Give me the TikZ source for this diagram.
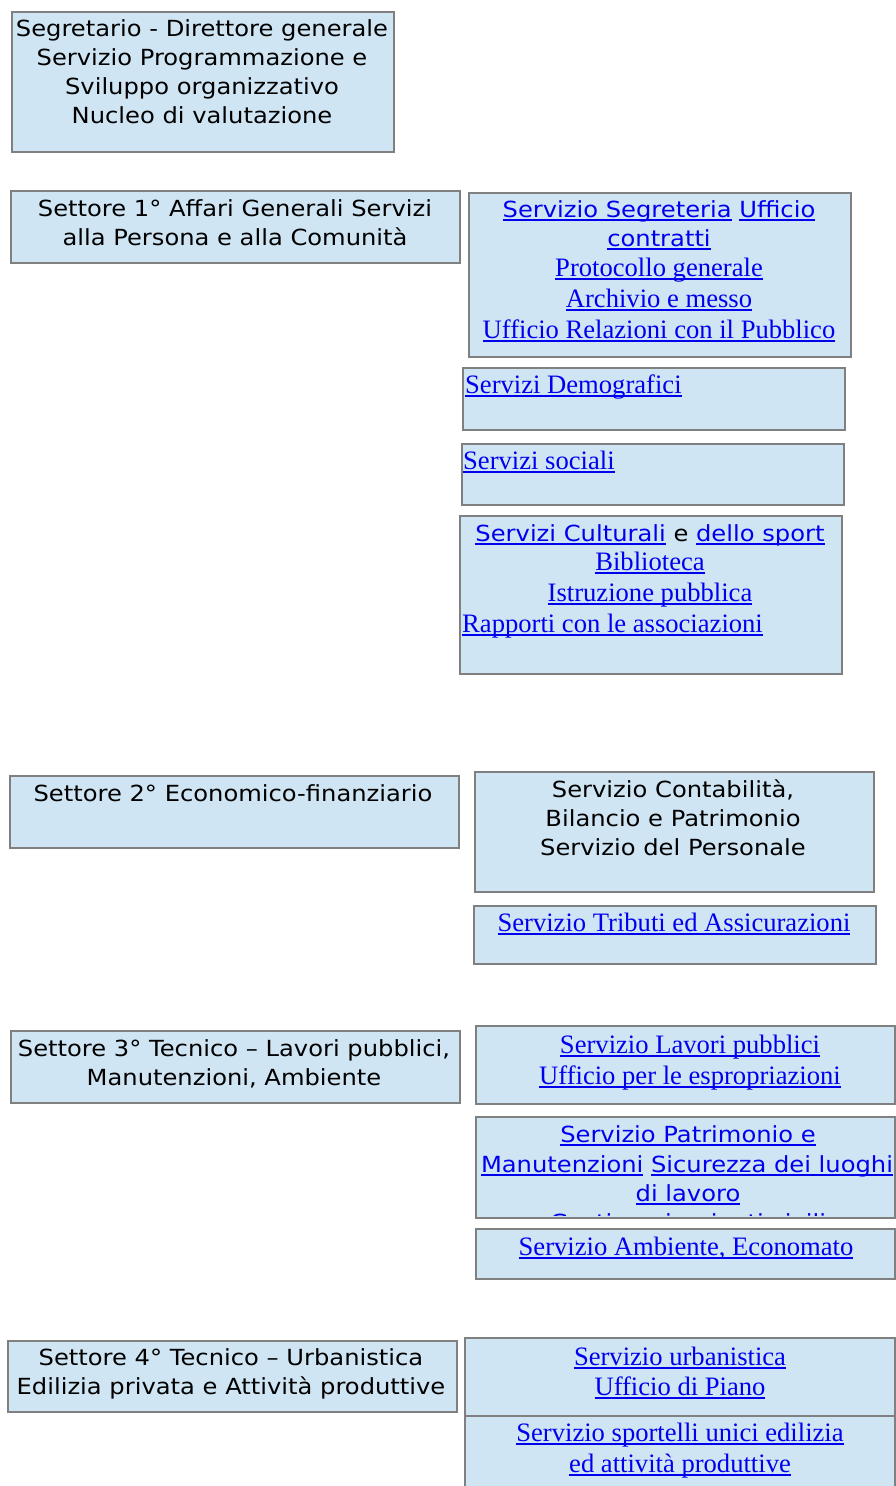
\documentclass[tikz,border=0pt]{standalone}
\usepackage{fontspec}
\newfontfamily\sansf[FakeStretch=1.09]{DejaVu Sans}
\newfontfamily\serf{Liberation Serif}
\definecolor{boxc}{HTML}{CFE5F3}
\definecolor{bordc}{HTML}{808080}
\definecolor{linkc}{HTML}{0000EE}
\newcommand\ulx[1]{\setbox0\hbox{#1}\rlap{\rule[-3.6pt]{\wd0}{1.3pt}}\box0}
\newcommand\lk[1]{\textcolor{linkc}{\ulx{#1}}}
\tikzset{
  box/.style={draw=bordc, line width=2pt, fill=boxc, rectangle, inner sep=0pt, anchor=north west},
  st/.style={font=\sansf\fontsize{22.2pt}{26pt}\selectfont, text=black, inner sep=0pt, anchor=base},
  sr/.style={font=\serf\fontsize{26.6pt}{30pt}\selectfont, text=linkc, inner sep=0pt, anchor=base},
  srl/.style={sr, anchor=base west}
}
\begin{document}
\begin{tikzpicture}[x=1pt,y=-1pt]
\useasboundingbox (0,0) rectangle (895,1486);
% Segretario
\node[box, minimum width=382pt, minimum height=140pt] (bA) at (11,11) {};
\node[st] (a1) at (202,36) {Segretario - Direttore generale};
\node[st] (a2) at (202,65) {Servizio Programmazione e};
\node[st] (a3) at (202,94) {Sviluppo organizzativo};
\node[st] (a4) at (202,123) {Nucleo di valutazione};
% Settore 1
\node[box, minimum width=449pt, minimum height=72pt] (bB) at (10,190) {};
\node[st] (b1) at (235,216) {Settore 1° Affari Generali Servizi};
\node[st] (b2) at (235,245) {alla Persona e alla Comunità};
% Segreteria
\node[box, minimum width=382pt, minimum height=164pt] (bC) at (468,192) {};
\node[st] (c1) at (659,217) {\lk{Servizio Segreteria} \lk{Ufficio}};
\node[st] (c2) at (659,246) {\lk{contratti}};
\node[sr] (c3) at (659,276) {\ulx{Protocollo generale}};
\node[sr] (c4) at (659,307) {\ulx{Archivio e messo}};
\node[sr] (c5) at (659,338) {\ulx{Ufficio Relazioni con il Pubblico}};
% Demografici
\node[box, minimum width=382pt, minimum height=62pt] (bD) at (462,367) {};
\node[srl] (d1) at (465,393) {\ulx{Servizi Demografici}};
% Sociali
\node[box, minimum width=382pt, minimum height=61pt] (bE) at (461,443) {};
\node[srl] (e1) at (463,469) {\ulx{Servizi sociali}};
% Culturali
\node[box, minimum width=382pt, minimum height=158pt] (bF) at (459,515) {};
\node[st] (f1) at (650,541) {\lk{Servizi Culturali} e \lk{dello sport}};
\node[sr] (f2) at (650,570) {\ulx{Biblioteca}};
\node[sr] (f3) at (650,601) {\ulx{Istruzione pubblica}};
\node[srl] (f4) at (462,632) {\ulx{Rapporti con le associazioni}};
% Settore 2
\node[box, minimum width=449pt, minimum height=72pt] (bG) at (9,775) {};
\node[st] (g1) at (233,801) {Settore 2° Economico-finanziario};
% Contabilita
\node[box, minimum width=399pt, minimum height=120pt] (bH) at (474,771) {};
\node[st] (h1) at (673,797) {Servizio Contabilità,};
\node[st] (h2) at (673,826) {Bilancio e Patrimonio};
\node[st] (h3) at (673,855) {Servizio del Personale};
% Tributi
\node[box, minimum width=402pt, minimum height=58pt] (bI) at (473,905) {};
\node[sr] (i1) at (674,931) {\ulx{Servizio Tributi ed Assicurazioni}};
% Settore 3
\node[box, minimum width=449pt, minimum height=72pt] (bJ) at (10,1030) {};
\node[st] (j1) at (234,1056) {Settore 3° Tecnico – Lavori pubblici,};
\node[st] (j2) at (234,1085) {Manutenzioni, Ambiente};
% Lavori pubblici
\node[box, minimum width=419pt, minimum height=78pt] (bK) at (475,1025) {};
\node[sr] (k1) at (690,1053) {\ulx{Servizio Lavori pubblici}};
\node[sr] (k2) at (690,1084) {\ulx{Ufficio per le espropriazioni}};
% Patrimonio
\node[box, minimum width=419pt, minimum height=101pt] (bL) at (475,1116) {};
\node[st] (l1) at (688,1142) {\lk{Servizio Patrimonio e}};
\node[st] (l2) at (687,1172) {\lk{Manutenzioni} \lk{Sicurezza dei luoghi}};
\node[st] (l3) at (688,1201) {\lk{di lavoro}};
\begin{scope}
\clip (476,1117) rectangle (893,1215.5);
\node[st] (l4) at (688,1230) {\lk{Gestione impianti civili}};
\end{scope}
% Ambiente
\node[box, minimum width=419pt, minimum height=50pt] (bM) at (475,1228) {};
\node[sr] (m1) at (686,1255) {\ulx{Servizio Ambiente, Economato}};
% Settore 4
\node[box, minimum width=449pt, minimum height=71pt] (bN) at (7,1340) {};
\node[st] (n1) at (231,1365) {Settore 4° Tecnico – Urbanistica};
\node[st] (n2) at (231,1394) {Edilizia privata e Attività produttive};
% Urbanistica
\node[box, minimum width=430pt, minimum height=78pt] (bO) at (464,1337) {};
\node[sr] (o1) at (680,1365) {\ulx{Servizio urbanistica}};
\node[sr] (o2) at (680,1395) {\ulx{Ufficio di Piano}};
% Sportelli
\node[box, minimum width=430pt, minimum height=85pt] (bP) at (464,1415) {};
\node[sr] (p1) at (680,1441) {\ulx{Servizio sportelli unici edilizia}};
\node[sr] (p2) at (680,1472) {\ulx{ed attività produttive}};
\end{tikzpicture}
\end{document}
